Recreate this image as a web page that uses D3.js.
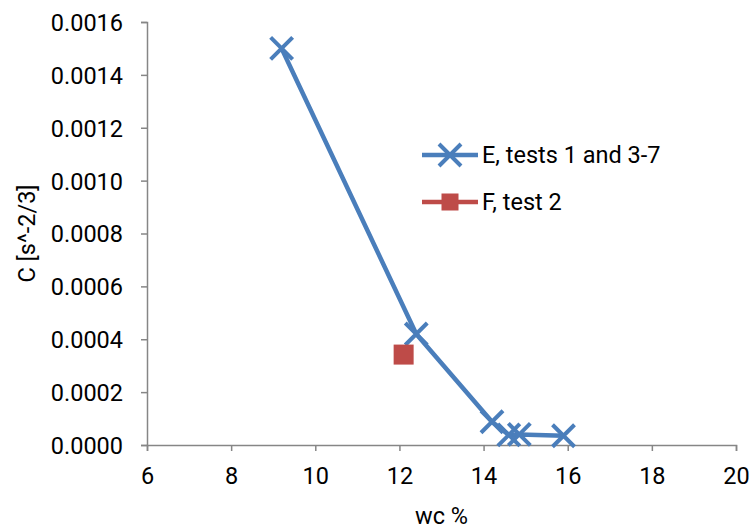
<!DOCTYPE html>
<html><head><meta charset="utf-8">
<script src="https://cdn.jsdelivr.net/npm/d3@7"></script>
<style>body{margin:0;background:#fff}svg{display:block}text{font-family:Roboto,sans-serif;fill:#000}</style>
</head><body>
<svg id="c" width="752" height="531"></svg>
<script>
const seriesE_x = [9.2, 12.4, 14.2, 14.6, 14.85, 15.9];
const seriesE_y = [0.0015, 0.00042, 0.000088, 0.000038, 0.00004, 0.000035];
const seriesF_x = [12.1];
const seriesF_y = [0.000342];
const seriesNames = ["E, tests 1 and 3-7", "F, test 2"];
const xTicks = [6, 8, 10, 12, 14, 16, 18, 20];
const yTicks = [0, 0.0002, 0.0004, 0.0006, 0.0008, 0.0010, 0.0012, 0.0014, 0.0016];
const xTitle = "wc %";
const yTitle = "C [s^-2/3]";
const colE = "#4a7ebb", colF = "#be4b48", axisCol = "#868686";
const fs = "23.5px";

const svg = d3.select("#c");
const x = d3.scaleLinear().domain([6, 20]).range([147, 736]);
const y = d3.scaleLinear().domain([0, 0.0016]).range([445, 22]);

// axes
const gx = svg.append("g").attr("transform", `translate(0,${y(0)})`)
  .call(d3.axisBottom(x).tickValues(xTicks).tickSize(6).tickPadding(16).tickFormat(d3.format("d")));
const gy = svg.append("g").attr("transform", `translate(${x(6)},0)`)
  .call(d3.axisLeft(y).tickValues(yTicks).tickSize(6).tickPadding(18).tickFormat(d3.format(".4f")));
[gx, gy].forEach(g => {
  g.select(".domain").attr("stroke", axisCol).attr("stroke-width", 1.5);
  g.selectAll(".tick line").attr("stroke", axisCol).attr("stroke-width", 1.5);
  g.selectAll(".tick text").style("font-size", fs).style("font-family", "Roboto").attr("fill", "#000");
});
gx.selectAll(".tick text").attr("dy", "0.71em");
gy.selectAll(".tick text").attr("dy", "0.36em");

svg.append("text").attr("x", (x(6) + x(20)) / 2).attr("y", 524).attr("text-anchor", "middle")
  .style("font-size", fs).text(xTitle);
svg.append("text").attr("transform", `translate(35,${(y(0) + y(0.0016)) / 2}) rotate(-90)`)
  .attr("text-anchor", "middle").style("font-size", fs).text(yTitle);

// series E
const ptsE = seriesE_x.map((v, i) => [v, seriesE_y[i]]);
svg.append("path").datum(ptsE)
  .attr("d", d3.line().x(d => x(d[0])).y(d => y(d[1])))
  .attr("fill", "none").attr("stroke", colE).attr("stroke-width", 4.5).attr("stroke-linejoin", "round");
const cross = (g, cx, cy, s) => {
  g.append("path").attr("d", `M${cx - s},${cy - s}L${cx + s},${cy + s}M${cx - s},${cy + s}L${cx + s},${cy - s}`)
    .attr("stroke", colE).attr("stroke-width", 4).attr("fill", "none");
};
const gE = svg.append("g");
ptsE.forEach(d => cross(gE, x(d[0]), y(d[1]), 11));

// series F
const ptsF = seriesF_x.map((v, i) => [v, seriesF_y[i]]);
svg.append("g").selectAll("rect").data(ptsF).join("rect")
  .attr("x", d => x(d[0]) - 10).attr("y", d => y(d[1]) - 10)
  .attr("width", 20).attr("height", 20).attr("fill", colF);

// legend
const lg = svg.append("g");
lg.append("line").attr("x1", 422).attr("x2", 478).attr("y1", 155).attr("y2", 155)
  .attr("stroke", colE).attr("stroke-width", 4.5);
cross(lg, 450, 155, 11);
lg.append("text").attr("x", 482).attr("y", 155).attr("dy", "0.36em").style("font-size", fs).text(seriesNames[0]);
lg.append("line").attr("x1", 422).attr("x2", 478).attr("y1", 202).attr("y2", 202)
  .attr("stroke", colF).attr("stroke-width", 4.5);
lg.append("rect").attr("x", 441.5).attr("y", 193.5).attr("width", 17).attr("height", 17).attr("fill", colF);
lg.append("text").attr("x", 482).attr("y", 202).attr("dy", "0.36em").style("font-size", fs).text(seriesNames[1]);
</script>
</body></html>
